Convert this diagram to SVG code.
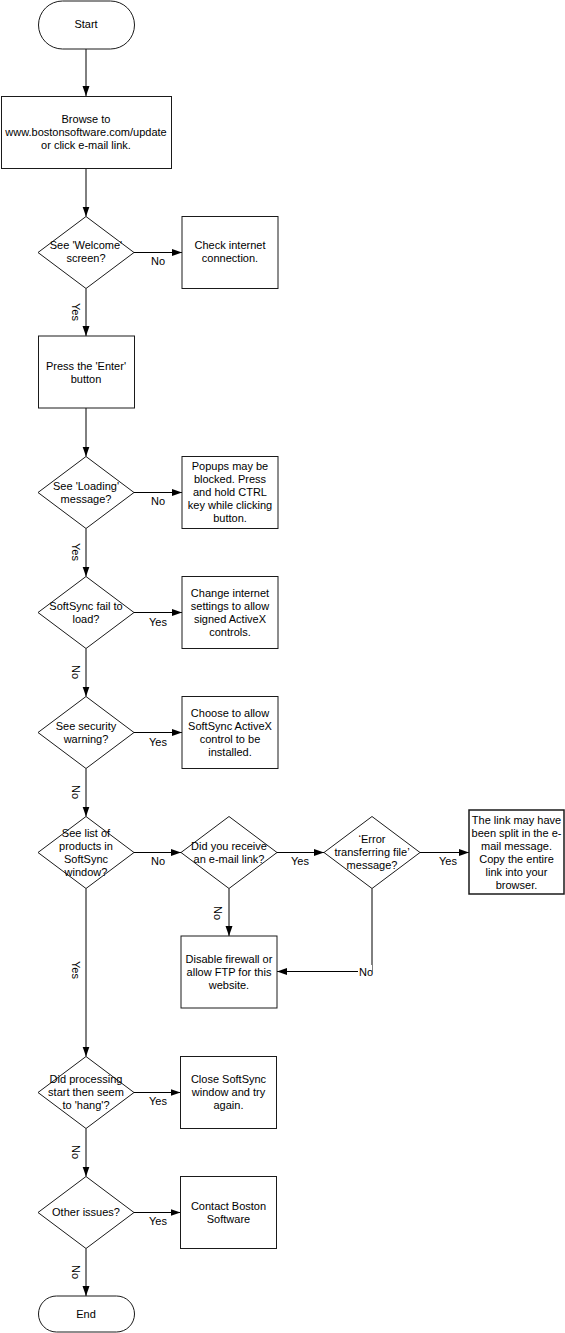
<svg xmlns="http://www.w3.org/2000/svg" width="565" height="1333" viewBox="0 0 565 1333">
<defs>
<marker id="ah" markerUnits="userSpaceOnUse" markerWidth="10" markerHeight="8" refX="10" refY="3.5" orient="auto"><path d="M0,0 L10,3.5 L0,7 z" fill="#000"/></marker>
<style>
.s{fill:#fff;stroke:#1a1a1a;stroke-width:1}
.t{font-family:"Liberation Sans",Arial,sans-serif;font-size:11px;fill:#000;text-anchor:middle}
.c{fill:none;stroke:#000;stroke-width:1;marker-end:url(#ah)}
.l{font-family:"Liberation Sans",Arial,sans-serif;font-size:11px;fill:#000;text-anchor:middle}
.r{font-family:"Liberation Sans",Arial,sans-serif;font-size:11px;fill:#000;text-anchor:middle;dominant-baseline:central}
</style>
</defs>
<rect width="565" height="1333" fill="#fff"/>
<g id="connectors">
<path class="c" d="M86,49 V96"/>
<path class="c" d="M86,168.5 V216.5"/>
<path class="c" d="M134,252.5 H182"/>
<path class="c" d="M86,288.5 V336"/>
<path class="c" d="M86,408 V456.5"/>
<path class="c" d="M134,492.5 H182"/>
<path class="c" d="M86,528.5 V576.5"/>
<path class="c" d="M134,612.5 H182"/>
<path class="c" d="M86,648.5 V696.5"/>
<path class="c" d="M134,732.5 H182"/>
<path class="c" d="M86,768.5 V816.5"/>
<path class="c" d="M134,852.5 H181"/>
<path class="c" d="M277,852.5 H324"/>
<path class="c" d="M420,852.5 H469"/>
<path class="c" d="M229,888.5 V936"/>
<path class="c" d="M372,888.5 V971.5 H277"/>
<path class="c" d="M86,888.5 V1056.5"/>
<path class="c" d="M134,1092.5 H180.5"/>
<path class="c" d="M86,1128.5 V1176.5"/>
<path class="c" d="M134,1212.5 H180.5"/>
<path class="c" d="M86,1248.5 V1296"/>
<text class="l" x="158" y="265">No</text>
<text class="r" x="76" y="312" transform="rotate(90 76 312)">Yes</text>
<text class="l" x="158" y="505">No</text>
<text class="r" x="76" y="552" transform="rotate(90 76 552)">Yes</text>
<text class="l" x="158" y="625.5">Yes</text>
<text class="r" x="76" y="672" transform="rotate(90 76 672)">No</text>
<text class="l" x="158" y="745.5">Yes</text>
<text class="r" x="76" y="792" transform="rotate(90 76 792)">No</text>
<text class="l" x="158" y="864.5">No</text>
<text class="l" x="300" y="864.5">Yes</text>
<text class="l" x="448" y="864.5">Yes</text>
<text class="r" x="218" y="913" transform="rotate(90 218 913)">No</text>
<rect x="358" y="965" width="14" height="13" fill="#fff"/>
<text class="l" x="366" y="975.5">No</text>
<text class="r" x="76" y="970" transform="rotate(90 76 970)">Yes</text>
<text class="l" x="158" y="1104.5">Yes</text>
<text class="r" x="76" y="1152" transform="rotate(90 76 1152)">No</text>
<text class="l" x="158" y="1224.5">Yes</text>
<text class="r" x="76" y="1272" transform="rotate(90 76 1272)">No</text>
</g>
<g id="start"><rect class="s" x="38.5" y="1" width="96" height="48" rx="24"/><text class="t" x="86" y="28">Start</text></g>
<g id="browse"><rect class="s" x="1.5" y="96.5" width="170" height="72"/><text class="t" x="86" y="123">Browse to</text><text class="t" x="86" y="136">www.bostonsoftware.com/update</text><text class="t" x="86" y="149">or click e-mail link.</text></g>
<g id="d1"><polygon class="s" points="86,216.5 134,252.5 86,288.5 38,252.5"/><text class="t" x="86" y="249">See 'Welcome'</text><text class="t" x="86" y="262">screen?</text></g>
<g id="check"><rect class="s" x="182" y="216.5" width="96" height="72"/><text class="t" x="230" y="249">Check internet</text><text class="t" x="230" y="262">connection.</text></g>
<g id="press"><rect class="s" x="38.5" y="336" width="96" height="72"/><text class="t" x="86" y="369.5">Press the 'Enter'</text><text class="t" x="86" y="382.5">button</text></g>
<g id="d2"><polygon class="s" points="86,456.5 134,492.5 86,528.5 38,492.5"/><text class="t" x="86" y="489.5">See 'Loading'</text><text class="t" x="86" y="502.5">message?</text></g>
<g id="popups"><rect class="s" x="182" y="456.5" width="96" height="72"/><text class="t" x="230" y="470">Popups may be</text><text class="t" x="230" y="483">blocked. Press</text><text class="t" x="230" y="496">and hold CTRL</text><text class="t" x="230" y="509">key while clicking</text><text class="t" x="230" y="522">button.</text></g>
<g id="d3"><polygon class="s" points="86,576.5 134,612.5 86,648.5 38,612.5"/><text class="t" x="86" y="609.5">SoftSync fail to</text><text class="t" x="86" y="622.5">load?</text></g>
<g id="change"><rect class="s" x="182" y="576.5" width="96" height="72"/><text class="t" x="230" y="596.5">Change internet</text><text class="t" x="230" y="609.5">settings to allow</text><text class="t" x="230" y="622.5">signed ActiveX</text><text class="t" x="230" y="635.5">controls.</text></g>
<g id="d4"><polygon class="s" points="86,696.5 134,732.5 86,768.5 38,732.5"/><text class="t" x="86" y="729.5">See security</text><text class="t" x="86" y="742.5">warning?</text></g>
<g id="choose"><rect class="s" x="182" y="696.5" width="96" height="72"/><text class="t" x="230" y="716.5">Choose to allow</text><text class="t" x="230" y="729.5">SoftSync ActiveX</text><text class="t" x="230" y="742.5">control to be</text><text class="t" x="230" y="755.5">installed.</text></g>
<g id="d5"><polygon class="s" points="86,816.5 134,852.5 86,888.5 38,852.5"/><text class="t" x="86" y="836.5">See list of</text><text class="t" x="86" y="849.5">products in</text><text class="t" x="86" y="862.5">SoftSync</text><text class="t" x="86" y="875.5">window?</text></g>
<g id="d6"><polygon class="s" points="229,816.5 277,852.5 229,888.5 181,852.5"/><text class="t" x="229" y="849.5">Did you receive</text><text class="t" x="229" y="862.5">an e-mail link?</text></g>
<g id="d7"><polygon class="s" points="372,816.5 420,852.5 372,888.5 324,852.5"/><text class="t" x="372" y="843">‘Error</text><text class="t" x="372" y="856">transferring file’</text><text class="t" x="372" y="869">message?</text></g>
<g id="link"><rect class="s" x="469" y="810" width="95" height="84" style="stroke-width:1.5"/><text class="t" x="516.5" y="823.5">The link may have</text><text class="t" x="516.5" y="836.5">been split in the e-</text><text class="t" x="516.5" y="849.5">mail message.</text><text class="t" x="516.5" y="862.5">Copy the entire</text><text class="t" x="516.5" y="875.5">link into your</text><text class="t" x="516.5" y="888.5">browser.</text></g>
<g id="disable"><rect class="s" x="181" y="936" width="96" height="72"/><text class="t" x="229" y="963">Disable firewall or</text><text class="t" x="229" y="976">allow FTP for this</text><text class="t" x="229" y="989">website.</text></g>
<g id="d8"><polygon class="s" points="86,1056.5 134,1092.5 86,1128.5 38,1092.5"/><text class="t" x="86" y="1083">Did processing</text><text class="t" x="86" y="1096">start then seem</text><text class="t" x="86" y="1109">to 'hang'?</text></g>
<g id="close"><rect class="s" x="180.5" y="1056.5" width="96" height="72"/><text class="t" x="228.5" y="1083">Close SoftSync</text><text class="t" x="228.5" y="1096">window and try</text><text class="t" x="228.5" y="1109">again.</text></g>
<g id="d9"><polygon class="s" points="86,1176.5 134,1212.5 86,1248.5 38,1212.5"/><text class="t" x="86" y="1216">Other issues?</text></g>
<g id="contact"><rect class="s" x="180.5" y="1176.5" width="96" height="72"/><text class="t" x="228.5" y="1209.5">Contact Boston</text><text class="t" x="228.5" y="1222.5">Software</text></g>
<g id="end"><rect class="s" x="38.5" y="1296" width="96" height="36" rx="18"/><text class="t" x="86" y="1317.5">End</text></g>
</svg>
